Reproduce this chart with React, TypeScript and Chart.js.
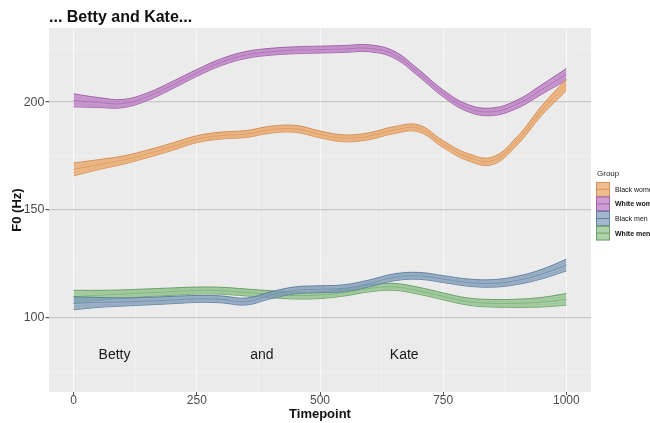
import { useEffect, useRef } from "react";
import { Chart, registerables } from "chart.js";
Chart.register(...registerables);

const timepoints = [0, 50, 100, 150, 200, 250, 300, 350, 400, 450, 500, 550, 600, 650, 700, 750, 800, 850, 900, 950, 1000];
const blackWomen = [168.8, 171, 173.1, 176, 179.3, 182.8, 184.5, 185.2, 187.2, 187.6, 185, 183.2, 184.2, 187, 187.8, 180.5, 174.5, 172.8, 182, 196, 208];
const whiteWomen = [200.8, 199.8, 199.3, 202.5, 207.8, 213.5, 218.5, 221.8, 223.3, 224, 224.3, 224.6, 224.9, 222, 213.5, 204, 197.2, 195.5, 199, 205.8, 212.8];
const blackMen = [106.8, 107.2, 107.4, 107.8, 108.3, 108.8, 108.6, 107.6, 110.5, 112.8, 113.3, 113.8, 116, 118.8, 119.5, 118, 116.4, 116, 117.4, 120.3, 124.5];
const whiteMen = [109.8, 110.5, 111.1, 111.7, 112.2, 112.7, 112.6, 111.8, 111, 110.4, 110.6, 111.8, 113.7, 114.4, 112.6, 110, 107.6, 106.8, 106.8, 107.3, 108.6];
const ciHalf = [3.0, 2.3, 1.9, 1.75, 1.7, 1.6, 1.6, 1.6, 1.6, 1.6, 1.6, 1.6, 1.6, 1.6, 1.6, 1.6, 1.65, 1.75, 1.9, 2.2, 2.7];

const groupNames = ["Black women", "White women", "Black men", "White men"];
const groupFill = ["rgba(233,163,100,0.72)", "rgba(186,120,194,0.72)", "rgba(126,155,184,0.72)", "rgba(140,192,136,0.72)"];
const groupLine = ["#d4884a", "#9a58a2", "#56789a", "#5f975a"];

const xTicks = [0, 250, 500, 750, 1000];
const xMinor = [125, 375, 625, 875];
const yTicks = [100, 150, 200];
const yMinor = [75, 125, 175, 225];
const words = ["Betty", "and", "Kate"];
const wordX = [83, 382, 671];
const wordY = 83;

const FONT = "'Liberation Sans', Arial, sans-serif";

export default function App() {
  const ref = useRef<HTMLCanvasElement | null>(null);

  useEffect(() => {
    const canvas = ref.current;
    if (!canvas) return;
    const series = [blackWomen, whiteWomen, blackMen, whiteMen];
    const datasets: any[] = [];
    series.forEach((vals, g) => {
      const upper = timepoints.map((t, i) => ({ x: t, y: vals[i] + ciHalf[i] }));
      const lower = timepoints.map((t, i) => ({ x: t, y: vals[i] - ciHalf[i] }));
      const center = timepoints.map((t, i) => ({ x: t, y: vals[i] }));
      const innerUp = timepoints.map((t, i) => ({ x: t, y: vals[i] + ciHalf[i] * 0.5 }));
      const innerLo = timepoints.map((t, i) => ({ x: t, y: vals[i] - ciHalf[i] * 0.5 }));
      const base = { pointRadius: 0, tension: 0.4, borderColor: groupLine[g] };
      datasets.push({ ...base, label: groupNames[g] + " upper", data: upper, fill: "+1", backgroundColor: groupFill[g], borderWidth: 0.9 });
      datasets.push({ ...base, label: groupNames[g] + " lower", data: lower, fill: false, borderWidth: 0.9 });
      datasets.push({ ...base, label: groupNames[g] + " in1", data: innerUp, fill: false, borderWidth: 0.5, borderColor: groupLine[g] + "88" });
      datasets.push({ ...base, label: groupNames[g] + " in2", data: innerLo, fill: false, borderWidth: 0.5, borderColor: groupLine[g] + "88" });
      datasets.push({ ...base, label: groupNames[g], data: center, fill: false, borderWidth: 1 });
    });

    const decor = {
      id: "decor",
      beforeDraw(chart: any) {
        const { ctx, chartArea: a, scales } = chart;
        const x = scales.x, y = scales.y;
        ctx.save();
        ctx.fillStyle = "#ebebeb";
        ctx.fillRect(a.left, a.top, a.right - a.left, a.bottom - a.top);
        ctx.strokeStyle = "#f3f3f3";
        ctx.lineWidth = 0.8;
        xMinor.forEach((v) => {
          const px = x.getPixelForValue(v);
          ctx.beginPath(); ctx.moveTo(px, a.top); ctx.lineTo(px, a.bottom); ctx.stroke();
        });
        yMinor.forEach((v) => {
          const py = y.getPixelForValue(v);
          ctx.beginPath(); ctx.moveTo(a.left, py); ctx.lineTo(a.right, py); ctx.stroke();
        });
        ctx.restore();
      },
      afterDraw(chart: any) {
        const { ctx, chartArea: a, scales } = chart;
        const x = scales.x, y = scales.y;
        ctx.save();
        ctx.fillStyle = "#111";
        ctx.font = `bold 16px ${FONT}`;
        ctx.textAlign = "left";
        ctx.textBaseline = "alphabetic";
        ctx.fillText("... Betty and Kate...", a.left, 21.5);
        ctx.font = `bold 13px ${FONT}`;
        ctx.textAlign = "center";
        ctx.textBaseline = "middle";
        ctx.fillText("Timepoint", (a.left + a.right) / 2, 414);
        ctx.save();
        ctx.translate(17, (a.top + a.bottom) / 2);
        ctx.rotate(-Math.PI / 2);
        ctx.fillText("F0 (Hz)", 0, 0);
        ctx.restore();
        ctx.font = `14px ${FONT}`;
        ctx.fillStyle = "#1a1a1a";
        words.forEach((w, i) => {
          ctx.fillText(w, x.getPixelForValue(wordX[i]), y.getPixelForValue(wordY));
        });
        ctx.textAlign = "left";
        ctx.fillStyle = "#222";
        ctx.font = `8px ${FONT}`;
        ctx.fillText("Group", 597, 174);
        groupNames.forEach((n, i) => {
          const top = 182 + i * 14.6;
          const kx = 596, kw = 14, kh = 14.6;
          ctx.fillStyle = groupFill[i];
          ctx.fillRect(kx, top, kw, kh);
          ctx.strokeStyle = groupLine[i];
          ctx.lineWidth = 0.8;
          ctx.strokeRect(kx + 0.4, top + 0.4, kw - 0.8, kh - 0.8);
          ctx.beginPath();
          ctx.moveTo(kx, top + kh / 2); ctx.lineTo(kx + kw, top + kh / 2);
          ctx.stroke();
          ctx.fillStyle = "#111";
          ctx.font = (i % 2 === 1 ? "bold " : "") + `7px ${FONT}`;
          ctx.fillText(n, 615, top + kh / 2 + 0.5);
        });
        ctx.restore();
      },
    };

    const chart = new Chart(canvas, {
      type: "line",
      data: { datasets },
      plugins: [decor],
      options: {
        animation: false,
        responsive: false,
        events: [],
        layout: { padding: { top: 28, right: 59, left: 0, bottom: 0 } },
        plugins: { legend: { display: false }, title: { display: false }, tooltip: { enabled: false } },
        scales: {
          x: {
            type: "linear",
            min: -50,
            max: 1050,
            afterFit: (s: any) => { s.height = 31; },
            afterBuildTicks: (s: any) => { s.ticks = xTicks.map((v) => ({ value: v })); },
            ticks: { color: "#4d4d4d", font: { size: 12, family: FONT }, padding: -2, maxRotation: 0, autoSkip: false, callback: (v: any) => String(v) },
            grid: { color: "rgba(248,248,248,0.95)", lineWidth: 1, tickColor: "#555", tickLength: 3 },
            border: { display: false },
          },
          y: {
            type: "linear",
            min: 65.7,
            max: 234.3,
            afterFit: (s: any) => { s.width = 49; },
            afterBuildTicks: (s: any) => { s.ticks = yTicks.map((v) => ({ value: v })); },
            ticks: { color: "#4d4d4d", font: { size: 12.5, family: FONT }, padding: 1, callback: (v: any) => String(v) },
            grid: { color: "#c8c8c8", lineWidth: 1.2, tickColor: "#555", tickLength: 3.5 },
            border: { display: false },
          },
        },
      } as any,
    });
    return () => chart.destroy();
  }, []);

  return (
    <div style={{ position: "absolute", left: 0, top: 0, width: 650, height: 423, background: "#fff" }}>
      <canvas ref={ref} width={650} height={423} style={{ display: "block" }} />
    </div>
  );
}
